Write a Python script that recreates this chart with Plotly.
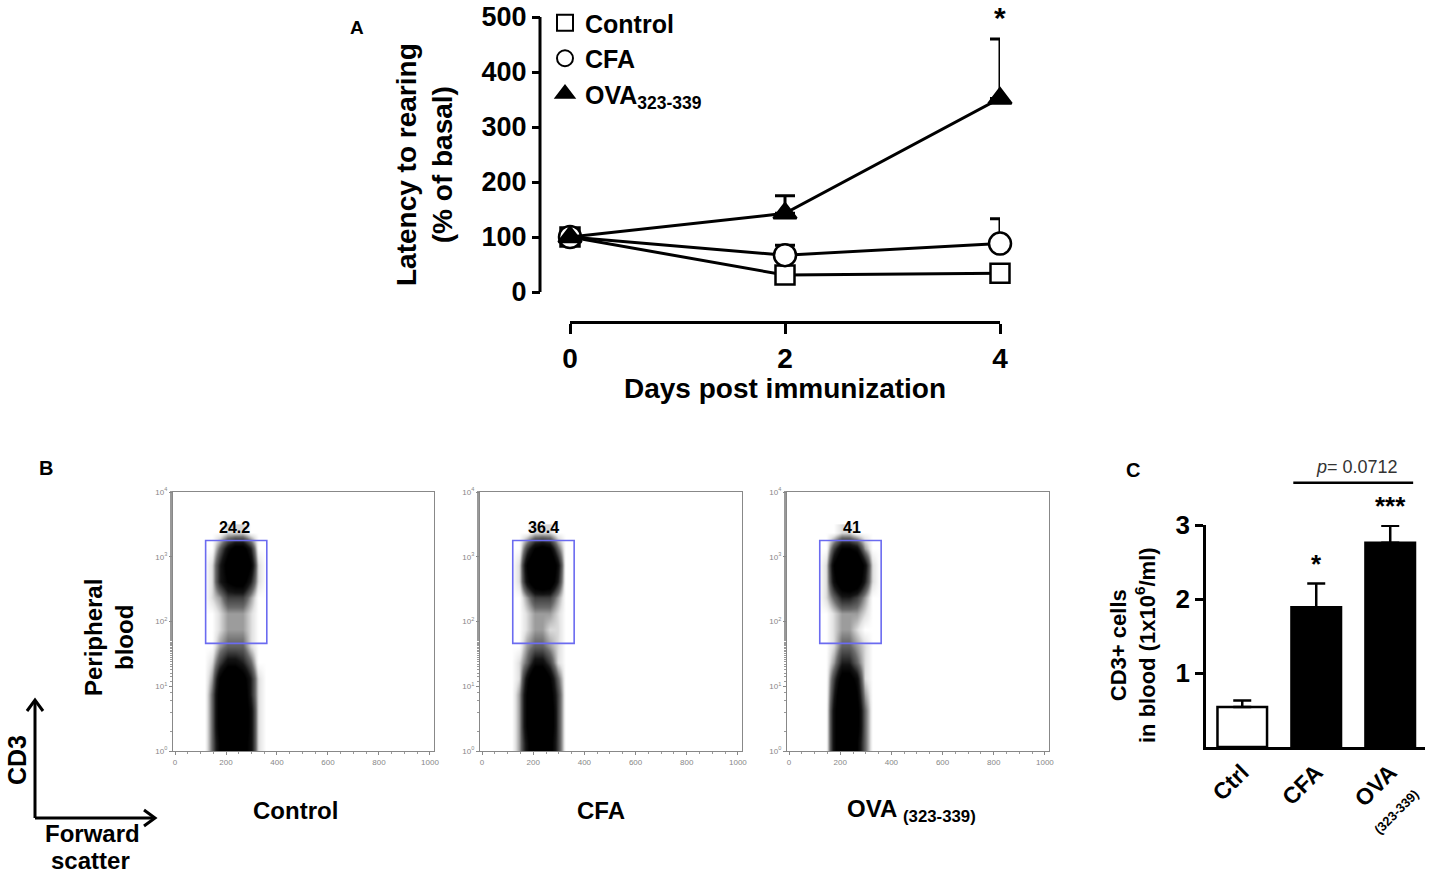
import plotly.graph_objects as go

W, H = 1439, 878


def px(x):
    return x / W


def py(y):
    return 1 - y / H


FONT = "Liberation Sans, Arial, sans-serif"
BOLD = dict(family=FONT, color="black", weight="bold")

# ---- Panel A: latency to rearing ----
days = [0, 2, 4]
control = [100, 31, 34]
control_err = [0, 5, 4]
cfa = [100, 67, 88]
cfa_err = [0, 18, 45]
ova = [100, 143, 352]
ova_err = [0, 32, 108]

# ---- Panel B: flow cytometry (FSC vs CD3), density ----
fsc_edges = [100, 130, 160, 190, 220, 250, 280, 310, 340, 370]
cd3_log_edges = [0, 0.25, 0.5, 0.75, 1.0, 1.25, 1.5, 1.75, 2.0, 2.25, 2.5, 2.75, 3.0, 3.25, 3.5]
# rows go from 10^0 upward
density_control = [
    [0, 3, 7, 10, 10, 8, 6, 1, 0],
    [0, 3, 8, 10, 10, 9, 6, 1, 0],
    [0, 3, 8, 10, 10, 9, 6, 1, 0],
    [0, 3, 8, 10, 10, 9, 5, 1, 0],
    [0, 2, 7, 10, 10, 8, 5, 1, 0],
    [0, 1, 4, 6, 6, 5, 3, 0, 0],
    [0, 0, 2, 3, 3, 3, 1, 0, 0],
    [0, 0, 1, 2, 2, 2, 1, 0, 0],
    [0, 0, 1, 2, 2, 2, 1, 0, 0],
    [0, 1, 2, 4, 4, 4, 2, 0, 0],
    [0, 1, 5, 7, 8, 8, 5, 1, 0],
    [0, 1, 5, 8, 10, 10, 7, 1, 0],
    [0, 0, 3, 6, 8, 8, 5, 0, 0],
    [0, 0, 0, 1, 1, 1, 0, 0, 0],
]
density_cfa = [
    [0, 2, 6, 10, 10, 8, 4, 0, 0],
    [0, 2, 7, 10, 10, 9, 4, 0, 0],
    [0, 2, 7, 10, 10, 9, 4, 0, 0],
    [0, 2, 7, 10, 10, 8, 4, 0, 0],
    [0, 1, 6, 10, 10, 7, 3, 0, 0],
    [0, 1, 3, 6, 6, 4, 1, 0, 0],
    [0, 0, 2, 3, 3, 2, 1, 0, 0],
    [0, 0, 1, 2, 2, 1, 1, 0, 0],
    [0, 0, 1, 2, 2, 2, 1, 0, 0],
    [0, 0, 2, 4, 4, 4, 2, 0, 0],
    [0, 1, 6, 9, 10, 9, 5, 0, 0],
    [0, 1, 7, 10, 10, 10, 6, 0, 0],
    [0, 0, 4, 7, 8, 7, 3, 0, 0],
    [0, 0, 0, 1, 1, 1, 0, 0, 0],
]
density_ova = [
    [0, 0, 6, 10, 10, 7, 3, 0, 0],
    [0, 0, 6, 10, 10, 8, 3, 0, 0],
    [0, 0, 6, 10, 10, 8, 3, 0, 0],
    [0, 0, 5, 10, 10, 7, 2, 0, 0],
    [0, 0, 4, 8, 8, 6, 1, 0, 0],
    [0, 0, 2, 5, 5, 3, 1, 0, 0],
    [0, 0, 1, 3, 3, 2, 1, 0, 0],
    [0, 0, 1, 2, 2, 1, 0, 0, 0],
    [0, 0, 1, 2, 2, 2, 1, 0, 0],
    [0, 1, 3, 5, 5, 4, 2, 0, 0],
    [0, 1, 6, 9, 10, 9, 5, 1, 0],
    [0, 1, 7, 10, 10, 10, 6, 1, 0],
    [0, 0, 4, 7, 7, 6, 2, 0, 0],
    [0, 0, 0, 1, 1, 0, 0, 0, 0],
]
flow_names = ["Control", "CFA", "OVA <sub>(323-339)</sub>"]
gate_pct = ["24.2", "36.4", "41"]
gate_label_fsc = [235, 240, 247]
gate_fsc = [120, 360]
gate_cd3 = [46, 1780]

# ---- Panel C: CD3+ cells in blood ----
groups = ["Ctrl", "CFA", "OVA"]
group_labels = ["Ctrl", "CFA", "OVA<br><span style='font-size:13px'>(323-339)</span>"]
cd3_cells = [0.54, 1.89, 2.76]
cd3_cells_err = [0.09, 0.32, 0.23]
cd3_stars = ["", "*", "***"]

fig = go.Figure()

# Panel A traces
series_a = [
    ("Control", control, control_err, "square", 19),
    ("CFA", cfa, cfa_err, "circle", 22),
    ("OVA<sub>323-339</sub>", ova, ova_err, "triangle-up", 20),
]
for name, vals, err, sym, size in series_a:
    filled = sym == "triangle-up"
    mk = dict(symbol=sym, size=size, color="black" if filled else "white",
              line=dict(color="black", width=2.5))
    fig.add_trace(go.Scatter(
        x=days, y=vals, name=name, mode="lines+markers", showlegend=False,
        line=dict(color="black", width=3), marker=mk,
        error_y=dict(type="data", symmetric=False, array=err, arrayminus=[0] * len(err),
                     color="black", thickness=3, width=10),
        cliponaxis=False, xaxis="x", yaxis="y",
    ))
# legend entries show the marker only
for name, vals, err, sym, size in series_a:
    filled = sym == "triangle-up"
    fig.add_trace(go.Scatter(
        x=[None], y=[None], name=name, mode="markers",
        marker=dict(symbol=sym, size=size, color="black" if filled else "white",
                    line=dict(color="black", width=2)),
        xaxis="x", yaxis="y",
    ))

# Panel B traces
flow_axes = [("x2", "y2"), ("x3", "y3"), ("x4", "y4")]
for (xa, ya), dens in zip(flow_axes, [density_control, density_cfa, density_ova]):
    fig.add_trace(go.Heatmap(
        x=fsc_edges, y=[10 ** e for e in cd3_log_edges], z=dens,
        zsmooth="best", zmin=0, zmax=7,
        colorscale=[[0, "white"], [0.12, "#e4e4e4"], [0.4, "#6a6a6a"], [0.75, "#151515"], [1, "black"]],
        showscale=False, xaxis=xa, yaxis=ya, hoverinfo="skip",
    ))

# Panel C traces
fig.add_trace(go.Bar(
    x=groups, y=cd3_cells, width=0.67,
    marker=dict(color=["white", "black", "black"], line=dict(color="black", width=2.5)),
    error_y=dict(type="data", symmetric=False, array=cd3_cells_err,
                 arrayminus=[0] * len(cd3_cells_err), color="black", thickness=2.5, width=9),
    showlegend=False, xaxis="x5", yaxis="y5", cliponaxis=False,
))

layout = dict(
    width=W, height=H, margin=dict(l=0, r=0, t=0, b=0, autoexpand=False),
    paper_bgcolor="white", plot_bgcolor="white",
    font=dict(family=FONT, color="black"),
    showlegend=True,
    legend=dict(x=px(545), y=py(0), xanchor="left", yanchor="top",
                font=dict(size=25, family=FONT, weight="bold"),
                bgcolor="rgba(0,0,0,0)", itemwidth=30, tracegroupgap=0),
    xaxis=dict(domain=[px(570), px(1000)], range=[0, 4], anchor="y", automargin=False,
               tickvals=days, ticks="outside", ticklen=10, tickwidth=3, tickcolor="black",
               showline=True, linewidth=3, linecolor="black", showgrid=False, zeroline=False,
               tickfont=dict(size=28, **BOLD)),
    yaxis=dict(domain=[py(321), py(17)], range=[-52.7, 500], anchor="free", position=px(540),
               automargin=False,
               tickvals=[0, 100, 200, 300, 400, 500], ticks="outside", ticklen=8, tickwidth=3,
               tickcolor="black", showline=False, showgrid=False, zeroline=False,
               tickfont=dict(size=27, **BOLD)),
)

flow_dom = [(173, 434), (480, 742), (787, 1049)]
for i, (x0, x1) in enumerate(flow_dom):
    n = i + 2
    layout[f"xaxis{n}"] = dict(
        domain=[px(x0), px(x1)], range=[-8, 1016], anchor=f"y{n}", automargin=False,
        tickvals=[0, 200, 400, 600, 800, 1000], ticks="outside", ticklen=3, tickcolor="#888",
        minor=dict(dtick=50, ticks="outside", ticklen=2, tickcolor="#999"),
        showline=True, mirror=True, linecolor="#888", linewidth=1.2,
        showgrid=False, zeroline=False, tickfont=dict(size=8, color="#888", family=FONT))
    layout[f"yaxis{n}"] = dict(
        domain=[py(751), py(492)], type="log", range=[0, 4], anchor=f"x{n}", automargin=False,
        tickvals=[1, 10, 100, 1000, 10000],
        ticktext=["10<sup>0</sup>", "10<sup>1</sup>", "10<sup>2</sup>", "10<sup>3</sup>", "10<sup>4</sup>"],
        ticks="outside", ticklen=3, tickcolor="#888",
        minor=dict(ticks="outside", ticklen=2, tickcolor="#999"),
        showline=True, mirror=True, linecolor="#888", linewidth=1.2,
        showgrid=False, zeroline=False, tickfont=dict(size=8, color="#888", family=FONT))

c_dom = [py(747), py(525)]
c_range = [0, 3]
layout["xaxis5"] = dict(
    domain=[px(1206), px(1425)], range=[-0.49, 2.47], anchor="y5", automargin=False,
    tickvals=groups, ticktext=group_labels, tickangle=-45, ticks="",
    showline=True, linewidth=2.5, linecolor="black", showgrid=False, zeroline=False,
    tickfont=dict(size=23, **BOLD))
layout["yaxis5"] = dict(
    domain=c_dom, range=c_range, anchor="x5", automargin=False,
    tickvals=[1, 2, 3], ticks="outside", ticklen=8, tickwidth=2.5, tickcolor="black",
    showline=True, linewidth=2.5, linecolor="black", showgrid=False, zeroline=False,
    tickfont=dict(size=26, **BOLD))

fig.update_layout(**layout)


def c_paper(v):
    # panel C value -> paper y (for marks drawn above the axis range)
    return c_dom[0] + (v - c_range[0]) / (c_range[1] - c_range[0]) * (c_dom[1] - c_dom[0])


shapes = [
    # panel A y-axis line (only spans 0..500)
    dict(type="line", xref="paper", yref="y", x0=px(540), x1=px(540), y0=0, y1=500,
         line=dict(color="black", width=3)),
    # panel C p-value bracket
    dict(type="line", xref="x5", yref="paper", x0=0.69, x1=2.31, y0=c_paper(3.57), y1=c_paper(3.57),
         line=dict(color="black", width=2.5)),
    # CD3 / forward scatter arrows
    dict(type="line", xref="paper", yref="paper", x0=px(35), x1=px(35), y0=py(818), y1=py(701),
         line=dict(color="black", width=3)),
    dict(type="path", xref="paper", yref="paper",
         path=f"M {px(27)},{py(711)} L {px(35)},{py(700)} L {px(43)},{py(711)}",
         line=dict(color="black", width=3)),
    dict(type="line", xref="paper", yref="paper", x0=px(35), x1=px(154), y0=py(818), y1=py(818),
         line=dict(color="black", width=3)),
    dict(type="path", xref="paper", yref="paper",
         path=f"M {px(144)},{py(810)} L {px(155)},{py(818)} L {px(144)},{py(826)}",
         line=dict(color="black", width=3)),
]
for i in range(3):
    n = i + 2
    shapes.append(dict(type="rect", xref=f"x{n}", yref=f"y{n}",
                       x0=gate_fsc[0], x1=gate_fsc[1], y0=gate_cd3[0], y1=gate_cd3[1],
                       line=dict(color="#6b6bf0", width=1.6)))
fig.update_layout(shapes=shapes)


def note(text, x, y, size, xref="paper", yref="paper", angle=0, bold=True,
         color="black", xanchor="center", yanchor="middle"):
    f = dict(family=FONT, size=size, color=color)
    if bold:
        f["weight"] = "bold"
    fig.add_annotation(text=text, x=x, y=y, xref=xref, yref=yref, showarrow=False,
                       textangle=angle, font=f, xanchor=xanchor, yanchor=yanchor)


# Panel A texts
note("A", px(357), py(28), 19)
note("Latency to rearing<br>(% of basal)", px(425), py(165), 28, angle=-90)
note("Days post immunization", px(785), py(388), 28)
note("*", 4, 466, 30, xref="x", yref="y", yanchor="bottom")

# Panel B texts
note("B", px(46), py(468), 20)
note("Peripheral<br>blood", px(109), py(638), 24, angle=-90)
note("CD3", px(17), py(760), 25, angle=-90)
note("Forward", px(92), py(833), 24)
note("scatter", px(90), py(860), 24)
for i in range(3):
    n = i + 2
    note(gate_pct[i], gate_label_fsc[i], 3.45, 16, xref=f"x{n}", yref=f"y{n}")
name_x = [295, 601, 912]
for nm, cx in zip(flow_names, name_x):
    note(nm, px(cx), py(810), 24)

# Panel C texts
note("C", px(1133), py(470), 20)
note("CD3+ cells<br>in blood (1x10<sup>6</sup>/ml)", px(1133), py(645), 22, angle=-90)
for i, s in enumerate(cd3_stars):
    if s:
        note(s, i, c_paper(cd3_cells[i] + cd3_cells_err[i] + 0.04), 26,
             xref="x5", yanchor="bottom")
note("<i>p</i>= 0.0712", 1.55, c_paper(3.78), 18, xref="x5", bold=False, color="#333")

fig.write_html("out.html", config={"displayModeBar": False},
               post_script="document.body.style.margin = '0';")
